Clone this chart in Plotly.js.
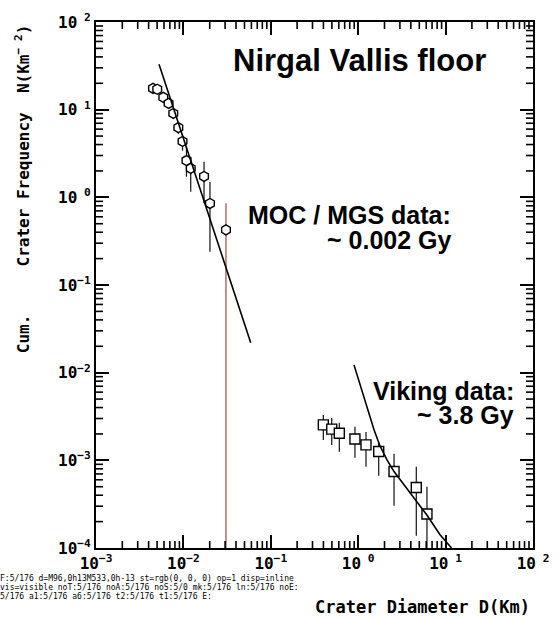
<!DOCTYPE html>
<html><head><meta charset="utf-8">
<script>
window.__errs = [];
window.addEventListener('error', e => window.__errs.push('WE:' + e.message));
window.addEventListener('unhandledrejection', e => window.__errs.push('UR:' + (e.reason && e.reason.message ? e.reason.message : e.reason)));
</script>
<script src="https://cdn.plot.ly/plotly-3.0.1.min.js"></script>
<style>html,body{margin:0;padding:0;background:#fff}
#dbg{position:absolute;left:0;top:574px;width:300px;height:45px;font:8px/9px monospace;white-space:pre-wrap;word-break:break-all;overflow:hidden;color:#000}
.hid{position:absolute;left:-4000px;top:0;width:559px;height:619px}</style>
</head><body>
<div id="chart" style="width:559px;height:619px"></div>
<div id="dbg"></div>
<script>
// ---- MOC / MGS crater counts (hexagons) ----
const mocDiameter = [0.00449, 0.00502, 0.00589, 0.00677, 0.00766, 0.00875, 0.00977, 0.01084, 0.01213, 0.01722, 0.02013, 0.0307];
const mocFreq     = [17.5, 17.1, 13.8, 11.8, 9.05, 6.23, 4.34, 2.63, 2.14, 1.73, 0.851, 0.425];
const mocFreqHigh = [18.2, 17.8, 14.5, 12.6, 10.2, 7.2, 5.3, 3.79, 2.91, 2.55, 1.50, 0.857];
const mocFreqLow  = [16.8, 16.4, 13.1, 11.0, 8.0, 5.3, 3.4, 1.72, 1.16, 0.857, 0.240, 0];
// MOC isochron (~0.002 Gy)
const mocFitDiameter = [0.00526, 0.0589];
const mocFitFreq     = [32.9, 0.0220];

// ---- Viking crater counts (squares) ----
const vikDiameter = [0.399, 0.498, 0.608, 0.918, 1.228, 1.717, 2.57, 4.62, 6.12];
const vikFreq     = [0.00254, 0.00227, 0.00204, 0.00175, 0.00150, 0.00126, 0.000745, 0.000490, 0.000244];
const vikFreqHigh = [0.00330, 0.00305, 0.00268, 0.00241, 0.00211, 0.00163, 0.00119, 0.000843, 0.000499];
const vikFreqLow  = [0.00171, 0.00150, 0.00125, 0.00107, 0.000843, 0.000665, 0.000303, 0.000138, 0];
// Viking isochron (~3.8 Gy)
const vikFitDiameter = [0.895, 1.251, 1.517, 1.775, 2.136, 2.57, 3.92, 6.08, 8.63, 11.7];
const vikFitFreq     = [0.01227, 0.00410, 0.00223, 0.00146, 0.001014, 0.000745, 0.000421, 0.000239, 0.0001415, 0.0001];

// ---- axes ----
const xDecades = [-3, -2, -1, 0, 1, 2];
const yDecades = [-4, -3, -2, -1, 0, 1, 2];

const yFloor = Math.pow(10, yDecades[0]);
function decadeText(e) {
  const s = e < 0 ? '\u2212' + Math.abs(e) : '\u00a0' + e;
  return '10<sup>' + s + '</sup>';
}
function minorVals(decs) {
  const out = [];
  for (let k = 0; k < decs.length - 1; k++)
    for (let m = 2; m <= 9; m++) out.push(m * Math.pow(10, decs[k]));
  return out;
}
function pick(arr, idx) { return idx.map(i => arr[i]); }
function errTrace(xs, ys, hi, lo, idx, symbol, barColor) {
  return {
    x: pick(xs, idx), y: pick(ys, idx), type: 'scatter', mode: 'markers',
    marker: {symbol: symbol, size: 10, color: '#ffffff', line: {color: '#000', width: 1.4}},
    error_y: {type: 'data', symmetric: false,
              array: idx.map(i => hi[i] - ys[i]),
              arrayminus: idx.map(i => ys[i] - (lo[i] > 0 ? lo[i] : yFloor)),
              color: barColor, thickness: 1.2, width: 0},
    hoverinfo: 'skip'
  };
}
const mocIdx = mocFreq.map((_, i) => i);
const mocOpen = mocIdx.filter(i => mocFreqLow[i] <= 0);
const mocClosed = mocIdx.filter(i => mocFreqLow[i] > 0);
const vikIdx = vikFreq.map((_, i) => i);

const monoFont = 'DejaVu Sans Mono, monospace';
const sansFont = 'Liberation Sans, Arial, sans-serif';

const MINOR_LEN = 7;
const minorLine = {color: '#000', width: 1.6};
const minorShapes = [];
minorVals(xDecades).forEach(v => {
  minorShapes.push({type: 'line', xref: 'x', yref: 'paper', x0: v, x1: v, ysizemode: 'pixel', yanchor: 0, y0: 0, y1: MINOR_LEN, line: minorLine, layer: 'above'});
  minorShapes.push({type: 'line', xref: 'x', yref: 'paper', x0: v, x1: v, ysizemode: 'pixel', yanchor: 1, y0: 0, y1: -MINOR_LEN, line: minorLine, layer: 'above'});
});
minorVals(yDecades).forEach(v => {
  minorShapes.push({type: 'line', yref: 'y', xref: 'paper', y0: v, y1: v, xsizemode: 'pixel', xanchor: 0, x0: 0, x1: MINOR_LEN, line: minorLine, layer: 'above'});
  minorShapes.push({type: 'line', yref: 'y', xref: 'paper', y0: v, y1: v, xsizemode: 'pixel', xanchor: 1, x0: 0, x1: -MINOR_LEN, line: minorLine, layer: 'above'});
});

const traces = [
  errTrace(mocDiameter, mocFreq, mocFreqHigh, mocFreqLow, mocOpen, 'hexagon', '#9b4a3c'),
  errTrace(mocDiameter, mocFreq, mocFreqHigh, mocFreqLow, mocClosed, 'hexagon', '#111'),
  errTrace(vikDiameter, vikFreq, vikFreqHigh, vikFreqLow, vikIdx, 'square', '#111'),
  {x: mocFitDiameter, y: mocFitFreq, type: 'scatter', mode: 'lines', line: {color: '#000', width: 1.6}, hoverinfo: 'skip'},
  {x: vikFitDiameter, y: vikFitFreq, type: 'scatter', mode: 'lines', line: {color: '#000', width: 1.6}, hoverinfo: 'skip'}
];

const axisCommon = {
  type: 'log', showline: true, linecolor: '#000', linewidth: 2, mirror: 'ticks',
  ticks: 'inside', ticklen: 13, tickwidth: 2, tickcolor: '#000',
  showgrid: false, zeroline: false, tickmode: 'array',
  tickfont: {family: monoFont, size: 16, color: '#000', weight: 'bold'}
};
const annotations = [
  {text: 'Nirgal Vallis floor', xref: 'paper', yref: 'paper', x: 0.604, y: 0.926, xanchor: 'center', yanchor: 'middle', showarrow: false,
   font: {family: sansFont, size: 31, color: '#000', weight: 'bold'}},
  {text: 'MOC / MGS data:', xref: 'paper', yref: 'paper', x: 0.817, y: 0.633, xanchor: 'right', yanchor: 'middle', showarrow: false,
   font: {family: sansFont, size: 25, color: '#000', weight: 'bold'}},
  {text: '~ 0.002 Gy', xref: 'paper', yref: 'paper', x: 0.817, y: 0.586, xanchor: 'right', yanchor: 'middle', showarrow: false,
   font: {family: sansFont, size: 25, color: '#000', weight: 'bold'}},
  {text: 'Viking data:', xref: 'paper', yref: 'paper', x: 0.961, y: 0.299, xanchor: 'right', yanchor: 'middle', showarrow: false,
   font: {family: sansFont, size: 25, color: '#000', weight: 'bold'}},
  {text: '~ 3.8 Gy', xref: 'paper', yref: 'paper', x: 0.961, y: 0.252, xanchor: 'right', yanchor: 'middle', showarrow: false,
   font: {family: sansFont, size: 25, color: '#000', weight: 'bold'}},
  {text: 'Cum.\u00a0\u00a0\u00a0\u00a0\u00a0Crater Frequency\u00a0\u00a0N(Km<sup>\u2212\u00a02</sup>)', xref: 'paper', yref: 'paper', x: -0.169, y: 0.6825, textangle: -90,
   xanchor: 'center', yanchor: 'middle', showarrow: false, font: {family: monoFont, size: 16, color: '#000', weight: 'bold'}},
  {text: 'Crater Diameter D(Km)', xref: 'paper', yref: 'paper', x: 0.748, y: -0.112, xanchor: 'center', yanchor: 'middle', showarrow: false,
   font: {family: monoFont, size: 17, color: '#000', weight: 'bold'}}
];
function makeLayout(opt) {
  opt = opt || {};
  return {
    width: 559, height: 619, margin: {l: 96, r: 26, t: 22, b: 71},
    paper_bgcolor: '#fff', plot_bgcolor: '#fff', showlegend: false,
    xaxis: Object.assign({}, axisCommon, {range: [xDecades[0], xDecades[xDecades.length - 1]],
      tickvals: xDecades.map(e => Math.pow(10, e)), ticktext: xDecades.map(decadeText)}),
    yaxis: Object.assign({}, axisCommon, {range: [yDecades[0], yDecades[yDecades.length - 1]],
      tickvals: yDecades.map(e => Math.pow(10, e)), ticktext: yDecades.map(decadeText)}),
    shapes: opt.noShapes ? [] : JSON.parse(JSON.stringify(minorShapes)),
    annotations: JSON.parse(JSON.stringify(opt.ann || annotations))
  };
}
const clone = o => JSON.parse(JSON.stringify(o));

function info(div) {
  const yt = div.querySelectorAll('path.ytick').length;
  const sh = div.querySelectorAll('.shapelayer path').length;
  return yt + '/' + sh;
}
const dbg = document.getElementById('dbg');
const variants = [
  ['noT', [], makeLayout()],
  ['noA', clone(traces), makeLayout({ann: []})],
  ['noS', clone(traces), makeLayout({noShapes: true})],
  ['mk', clone(traces).slice(0, 3), makeLayout()],
  ['ln', clone(traces).slice(3), makeLayout()],
  ['noE', clone(traces).map(t => { delete t.error_y; return t; }), makeLayout()],
  ['a1', clone(traces), makeLayout({ann: [annotations[0]]})],
  ['a6', clone(traces), makeLayout({ann: [annotations[5]]})],
  ['t2', clone(traces).slice(2, 3), makeLayout({ann: []})],
  ['t1', clone(traces).slice(1, 2), makeLayout({ann: []})]
];

Plotly.newPlot('chart', traces, makeLayout(), {staticPlot: true, displayModeBar: false}).then(gd => {
  let out = 'F:' + info(gd);
  const t = gd.querySelector('path.ytick');
  if (t) { const cs = getComputedStyle(t); out += ' d=' + (t.getAttribute('d') || '').slice(0, 20) + ' st=' + cs.stroke + ' op=' + cs.opacity + ' disp=' + cs.display + ' vis=' + cs.visibility; }
  dbg.textContent = out;
  let p = Promise.resolve();
  variants.forEach(([name, tr, lay]) => {
    p = p.then(() => {
      const d = document.createElement('div'); d.className = 'hid'; document.body.appendChild(d);
      return Plotly.newPlot(d, tr, lay, {staticPlot: true}).then(g => { dbg.textContent += ' ' + name + ':' + info(g); })
        .catch(e => { dbg.textContent += ' ' + name + ':ERR ' + e; });
    });
  });
  return p.then(() => { dbg.textContent += ' E:' + window.__errs.join('|').slice(0, 200); });
}).catch(e => { dbg.textContent += ' CATCH ' + e; });
</script>
</body></html>
